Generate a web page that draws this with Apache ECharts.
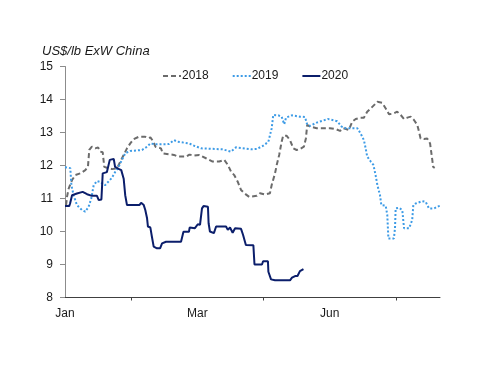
<!DOCTYPE html>
<html>
<head>
<meta charset="utf-8">
<script src="https://cdn.jsdelivr.net/npm/echarts@6/dist/echarts.min.js"></script>
<style>html,body{margin:0;padding:0;background:#fff}#c{width:500px;height:386px}</style>
</head>
<body>
<div id="c"></div>
<script>
// x positions are trading-day indices from the first trading day of January
var monthLabels = {0: 'Jan', 60: 'Mar', 120: 'Jun'};
var dayCount = 171;
var yTicks = [8, 9, 10, 11, 12, 13, 14, 15];
var seriesNames = ['2018', '2019', '2020'];

var s2018 = [[0.5,10.8],[0.9,11.05],[1.7,11.31],[3.2,11.56],[4.7,11.71],[6.9,11.76],[9.2,11.86],[10.4,11.96],[11.0,12.47],[12.2,12.57],[13.7,12.52],[15.0,12.55],[16.0,12.42],[17.1,12.4],[17.8,11.96],[19.0,11.93],[21.3,11.89],[23.6,11.92],[25.1,12.12],[26.6,12.32],[28.1,12.52],[29.6,12.67],[31.1,12.8],[33.4,12.87],[36.4,12.87],[37.6,12.83],[38.7,12.85],[39.8,12.75],[41.0,12.57],[43.5,12.52],[44.3,12.37],[44.9,12.32],[49.4,12.32],[51.1,12.27],[54.9,12.27],[56.4,12.33],[58.6,12.3],[60.9,12.32],[63.9,12.22],[66.9,12.12],[69.9,12.12],[72.2,12.17],[73.8,12.02],[75.3,11.81],[76.7,11.71],[78.3,11.51],[79.8,11.26],[81.3,11.16],[83.5,11.05],[86.9,11.08],[88.4,11.16],[90.7,11.12],[92.9,11.16],[93.7,11.41],[95.2,11.76],[96.0,12.02],[97.1,12.32],[98.2,12.72],[98.9,12.9],[100.5,12.9],[102.0,12.77],[103.5,12.52],[105.0,12.47],[106.5,12.5],[108.3,12.57],[109.2,12.82],[109.8,13.23],[111.1,13.18],[114.1,13.13],[120.1,13.13],[122.9,13.1],[124.7,13.05],[126.2,13.13],[128.7,13.08],[130.2,13.33],[131.8,13.41],[134.0,13.45],[135.5,13.45],[137.0,13.63],[138.6,13.73],[140.1,13.83],[141.6,13.93],[143.8,13.9],[145.4,13.73],[146.9,13.55],[149.1,13.58],[150.6,13.63],[152.2,13.53],[153.7,13.41],[155.2,13.45],[156.7,13.48],[158.2,13.38],[159.7,13.23],[160.5,13.02],[161.2,12.82],[162.7,12.8],[164.2,12.82],[165.5,12.67],[166.0,12.42],[166.5,12.17],[166.9,11.96],[167.6,11.93]];

var s2019 = [[0,11.95],[0.9,11.98],[2.4,11.92],[2.9,11.4],[3.9,11.1],[5.4,10.8],[7.7,10.65],[9.2,10.6],[10.7,10.75],[11.9,11.0],[13.0,11.4],[14.5,11.53],[16.0,11.5],[18.1,11.4],[21.2,11.62],[22.8,11.81],[24.3,11.96],[25.8,12.17],[27.3,12.37],[29.6,12.44],[34.9,12.47],[37.2,12.57],[38.7,12.67],[40.9,12.64],[47.1,12.65],[49.4,12.77],[51.1,12.72],[56.2,12.67],[58.5,12.6],[61.7,12.52],[71.5,12.49],[75.2,12.42],[77.5,12.55],[84.3,12.49],[86.9,12.5],[89.9,12.6],[92.2,12.72],[93.7,13.13],[94.4,13.53],[96.7,13.52],[98.2,13.48],[99.4,13.25],[100.2,13.45],[102.8,13.52],[106.5,13.48],[108.8,13.47],[109.8,13.24],[111.1,13.2],[114.1,13.3],[119.2,13.41],[123.4,13.34],[125.4,13.18],[127.2,13.13],[132.5,13.13],[134.0,12.97],[135.5,12.77],[136.3,12.52],[137.0,12.27],[138.6,12.12],[139.8,12.02],[140.8,11.71],[141.6,11.41],[142.8,11.1],[143.4,10.8],[145.4,10.78],[146.1,10.5],[146.6,9.79],[149.1,9.79],[149.6,10.1],[149.9,10.7],[151.4,10.72],[152.9,10.65],[153.4,10.3],[153.7,10.1],[156.0,10.1],[156.7,10.12],[157.4,10.35],[157.9,10.8],[159.0,10.85],[162.0,10.92],[163.5,10.9],[165.0,10.7],[167.3,10.7],[169.5,10.77],[170,10.78]];

var s2020 = [[0,10.77],[1.9,10.77],[2.3,10.85],[3.2,11.1],[5.4,11.15],[8.0,11.2],[10.0,11.13],[12.2,11.08],[14.5,11.08],[15.3,10.95],[16.5,10.97],[17.1,11.76],[19.0,11.8],[19.8,11.85],[20.3,12.17],[22.1,12.2],[22.7,11.96],[24.3,11.9],[25.5,11.86],[26.6,11.6],[27.3,11.1],[28.1,10.8],[31.7,10.8],[32.6,10.85],[33.7,10.8],[34.5,10.87],[35.7,10.8],[36.4,10.65],[37.2,10.4],[37.6,10.15],[38.7,10.12],[39.4,9.84],[40.2,9.54],[41.7,9.49],[43.1,9.49],[44.0,9.64],[45.8,9.69],[52.6,9.69],[53.4,9.64],[53.7,9.99],[56.2,9.99],[56.5,10.12],[58.9,10.1],[59.4,10.05],[60.2,10.22],[61.2,10.2],[62.1,10.7],[62.8,10.77],[64.8,10.75],[65.1,10.25],[65.7,10.0],[67.5,9.95],[68.5,10.15],[73.0,10.15],[73.8,10.05],[74.8,10.12],[76.0,9.96],[77.1,10.1],[79.8,10.08],[80.7,9.9],[82.0,9.59],[85.4,9.58],[85.9,9.0],[89.3,9.0],[89.8,9.1],[92.0,9.1],[92.2,8.78],[93.4,8.55],[95.2,8.52],[102.0,8.52],[102.9,8.6],[104.3,8.65],[105.4,8.65],[106.5,8.8],[107.4,8.8],[108.1,8.86]];

var categories = [];
for (var i = 0; i < dayCount; i++) categories.push(monthLabels[i] || String(i));

var FONT = 'Liberation Sans';
var chart = echarts.init(document.getElementById('c'), null, {renderer: 'canvas'});
chart.setOption({
  animation: false,
  backgroundColor: '#fff',
  title: {
    text: 'US$/lb ExW China', left: 42, top: 45, padding: 0,
    textStyle: {fontFamily: FONT, fontSize: 13, fontStyle: 'italic', fontWeight: 'normal', color: '#1a1a1a'}
  },
  legend: {
    data: seriesNames, left: 162, top: 70, padding: 0, itemGap: 23, itemWidth: 18, itemHeight: 10,
    itemStyle: {opacity: 0, color: 'transparent', borderWidth: 0},
    textStyle: {fontFamily: FONT, fontSize: 12, color: '#1a1a1a', padding: [0, 0, 0, -4]}
  },
  grid: {left: 65, right: 60, top: 66.5, bottom: 88.5},
  xAxis: [
    {type: 'value', min: 0, max: dayCount - 1, show: false},
    {
      type: 'category', data: categories, boundaryGap: false, position: 'bottom',
      axisLine: {show: true, lineStyle: {color: '#404040', width: 1}},
      axisTick: {show: true, length: 3, interval: function (idx) { return idx % 60 === 30; }, lineStyle: {color: '#404040'}},
      axisLabel: {
        interval: function (idx) { return monthLabels[idx] !== undefined; },
        margin: 10, fontFamily: FONT, fontSize: 12, color: '#1a1a1a'
      },
      splitLine: {show: false}
    }
  ],
  yAxis: {
    type: 'value', min: yTicks[0], max: yTicks[yTicks.length - 1], interval: 1,
    axisLine: {show: true, lineStyle: {color: '#8c8c8c', width: 1}},
    axisTick: {show: true, inside: false, length: 5, lineStyle: {color: '#8c8c8c'}},
    axisLabel: {margin: 12, fontFamily: FONT, fontSize: 12, color: '#1a1a1a'},
    splitLine: {show: false}
  },
  series: [
    {name: '2018', type: 'line', xAxisIndex: 0, data: s2018, symbol: 'none',
     lineStyle: {color: '#6b6b6b', width: 2, type: [5, 3]}, itemStyle: {color: '#6b6b6b'}},
    {name: '2019', type: 'line', xAxisIndex: 0, data: s2019, symbol: 'none',
     lineStyle: {color: '#3d9be6', width: 2, type: [2, 2]}, itemStyle: {color: '#3d9be6'}},
    {name: '2020', type: 'line', xAxisIndex: 0, data: s2020, symbol: 'none', z: 5,
     lineStyle: {color: '#0b1e6b', width: 2}, itemStyle: {color: '#0b1e6b'}}
  ]
});
</script>
</body>
</html>
